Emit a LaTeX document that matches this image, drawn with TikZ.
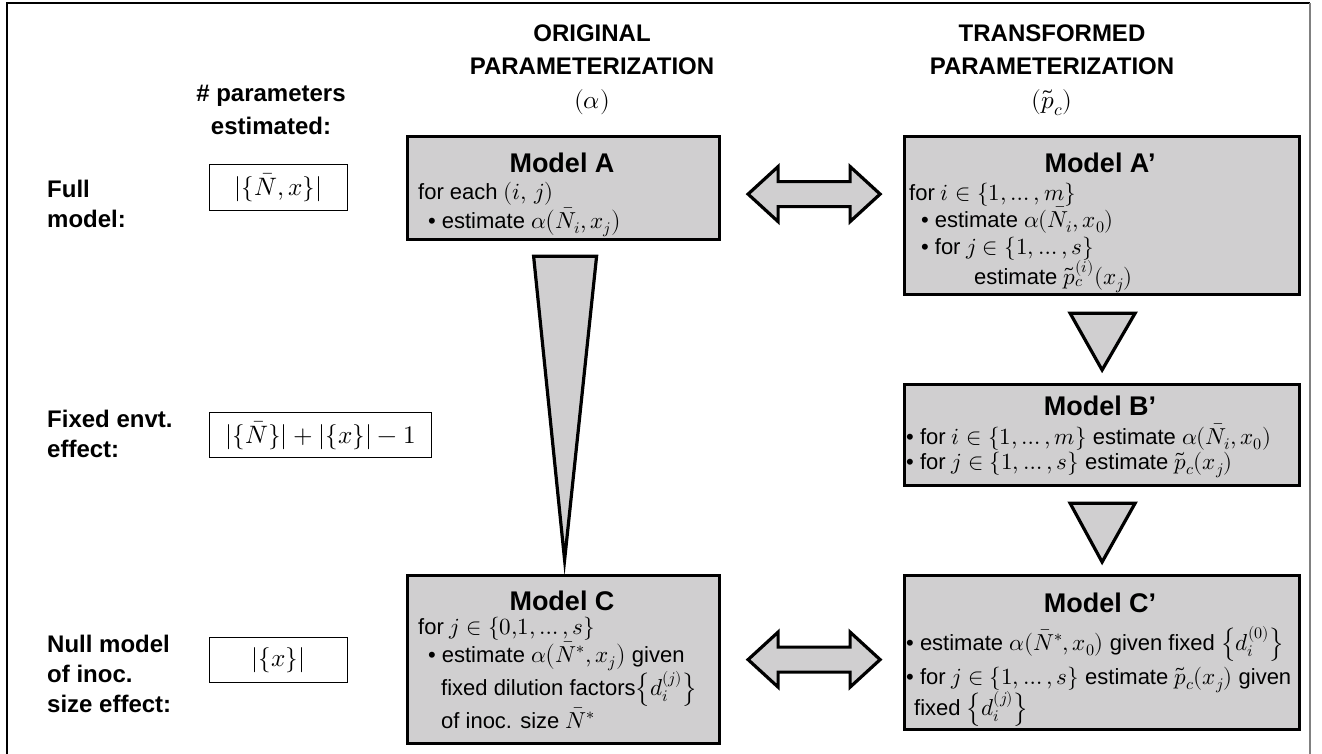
\documentclass[tikz,border=0pt]{standalone}
\usepackage{fontspec}
\usepackage{unicode-math}
\setmainfont{Liberation Sans}
\setmathfont{latinmodern-math.otf}[Scale=1.05]
\usetikzlibrary{calc}
\definecolor{boxgray}{RGB}{208,207,208}
\definecolor{framegray}{RGB}{128,128,128}
\tikzset{
  modelbox/.style={draw, line width=3.2pt, fill=boxgray, rectangle, inner sep=0pt, anchor=north west},
  countbox/.style={draw, line width=1.3pt, fill=white, rectangle, inner sep=0pt, anchor=north west,
                   font=\fontsize{24}{28}\selectfont},
  head/.style={font=\bfseries\fontsize{24}{33}\selectfont, align=center, inner sep=0pt, anchor=north},
  rowlabel/.style={font=\bfseries\fontsize{24}{30}\selectfont, align=left, inner sep=0pt, anchor=north west},
  title/.style={font=\bfseries\fontsize{27}{30}\selectfont, inner sep=0pt, anchor=base},
  body/.style={font=\fontsize{22}{26}\selectfont, inner sep=0pt, anchor=base west},
  flow/.style={draw, line width=3.2pt, fill=boxgray, line join=miter},
  dblarrow/.pic={
    \draw[flow] (-66,0) -- (-36,-27.5) -- (-36,-12.5) -- (36,-12.5) -- (36,-27.5) -- (66,0)
                -- (36,27.5) -- (36,12.5) -- (-36,12.5) -- (-36,27.5) -- cycle;
  }
}
\begin{document}
\begin{tikzpicture}[x=1pt,y=-1pt]
\useasboundingbox (0,0) rectangle (1322,753);

% outer frame (open at the bottom)
\draw[line width=1.5pt] (7,760) -- (7,3) -- (1310,3);
\draw[framegray, line width=2pt] (1310,3) -- (1310,760);

% column headings
\node[head] (hcount) at (271,85) {\# parameters\\estimated:};
\node[head] (horig) at (592,25) {ORIGINAL\\PARAMETERIZATION\\[1pt]$(\alpha)$};
\node[head] (htrans) at (1052,25) {TRANSFORMED\\PARAMETERIZATION\\[1pt]$(\tilde{p}_c)$};

% row headings
\node[rowlabel] (rfull) at (47,180) {Full\\model:};
\node[rowlabel] (rfixed) at (47,410) {Fixed envt.\\effect:};
\node[rowlabel] (rnull) at (47,635) {Null model\\of inoc.\\size effect:};

% parameter counts
\node[countbox, minimum width=138pt, minimum height=46pt] (cfull) at (209,164) {$\lvert\{\bar{N}, x\}\rvert$};
\node[countbox, minimum width=222pt, minimum height=45pt] (cfixed) at (209,412) {$\lvert\{\bar{N}\}\rvert + \lvert\{x\}\rvert - 1$};
\node[countbox, minimum width=138pt, minimum height=45pt] (cnull) at (209,637) {$\lvert\{x\}\rvert$};

% model boxes
\node[modelbox, minimum width=312pt, minimum height=103pt] (A) at (406,135) {};
\node[modelbox, minimum width=395pt, minimum height=158pt] (Ap) at (903,135) {};
\node[modelbox, minimum width=395pt, minimum height=101pt] (Bp) at (903,383) {};
\node[modelbox, minimum width=312pt, minimum height=168pt] (C) at (406,574) {};
\node[modelbox, minimum width=395pt, minimum height=154pt] (Cp) at (903,574) {};

% Model A
\node[title] (Atitle) at (562,172) {Model A};
\node[body] (A1) at (418,199) {for each $(i,\,j)$};
\node[body] (A2) at (428,228) {•\hspace{6pt}estimate $\alpha\bigl(\bar{N}_i, x_j\bigr)$};

% Model A'
\node[title] (Aptitle) at (1100,172) {Model A’};
\node[body] (Ap1) at (909,200) {for $i \in \{1, \ldots, m\}$};
\node[body] (Ap2) at (921,227) {•\hspace{6pt}estimate $\alpha(\bar{N}_i, x_0)$};
\node[body] (Ap3) at (921,254) {•\hspace{6pt}for $j \in \{1, \ldots, s\}$};
\node[body] (Ap4) at (974,284) {estimate $\tilde{p}_c^{(i)}(x_j)$};

% Model B'
\node[title] (Bptitle) at (1100,415) {Model B’};
\node[body] (Bp1) at (906,444) {• for $i \in \{1, \ldots, m\}$ estimate $\alpha(\bar{N}_i, x_0)$};
\node[body] (Bp2) at (906,469) {• for $j \in \{1, \ldots, s\}$ estimate $\tilde{p}_c(x_j)$};

% Model C
\node[title] (Ctitle) at (562,610) {Model C};
\node[body] (C1) at (418,634) {for $j \in \{0{,}1, \ldots, s\}$};
\node[body] (C2) at (428,662) {•\hspace{6pt}estimate $\alpha\bigl(\bar{N}^{*}, x_j\bigr)$ given};
\node[body] (C3) at (441,695) {fixed dilution factors$\left\{d_i^{(j)}\right\}$};
\node[body] (C4) at (441,728) {of inoc. size $\bar{N}^{*}$};

% Model C'
\node[title] (Cptitle) at (1100,612) {Model C’};
\node[body] (Cp1) at (906,650) {• estimate $\alpha(\bar{N}^{*}, x_0)$ given fixed $\left\{d_i^{(0)}\right\}$};
\node[body] (Cp2) at (906,684) {• for $j \in \{1, \ldots, s\}$ estimate $\tilde{p}_c(x_j)$ given};
\node[body] (Cp3) at (914,715) {fixed $\left\{d_i^{(j)}\right\}$};

% reduction from Model A to Model C
\draw[flow] ($(A.south)+(-30,15)$) -- ($(A.south)+(33,15)$) -- ($(C.north)+(1,-14)$) -- cycle;

% reductions A' -> B' -> C'
\draw[flow] ($(Ap.south)+(-32,17)$) -- ($(Ap.south)+(33,17)$) -- ($(Bp.north)+(0,-13)$) -- cycle;
\draw[flow] ($(Bp.south)+(-32,16)$) -- ($(Bp.south)+(33,16)$) -- ($(Cp.north)+(0,-12)$) -- cycle;

% equivalences between the two parameterizations
\coordinate (eqA) at ($(A.east)!0.5!(Ap.west |- A.east)+(2,6)$);
\coordinate (eqC) at ($(C.east)!0.5!(Cp.west |- C.east)+(2,0)$);
\pic at (eqA) {dblarrow};
\pic at (eqC) {dblarrow};
\end{tikzpicture}
\end{document}
